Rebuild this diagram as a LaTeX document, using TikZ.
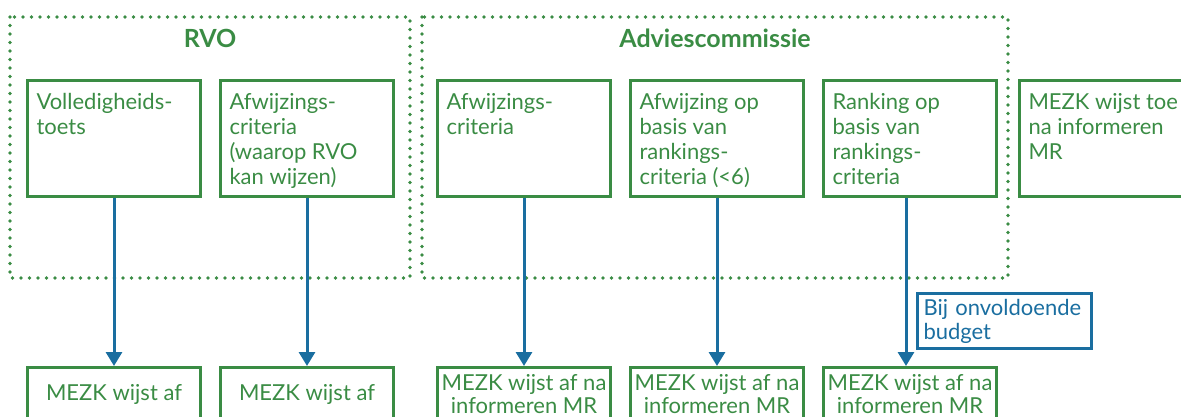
\documentclass[tikz,border=0pt]{standalone}
\usepackage{fontspec}
\setmainfont{Lato}
\usetikzlibrary{arrows.meta}
\definecolor{rvogroen}{RGB}{58,140,68}
\definecolor{rvoblauw}{RGB}{26,110,160}
\newcommand{\staptekst}[1]{\parbox[t][90pt][t]{155pt}{\raggedright #1}}

\tikzset{
  stap/.style={draw=rvogroen, line width=3pt, text=rvogroen, anchor=north west,
    inner xsep=9pt, inner ysep=13pt, font=\fontsize{22}{25}\selectfont},
  besluit/.style={draw=rvogroen, line width=3pt, text=rvogroen, anchor=north west,
    minimum width=173pt, minimum height=54pt, align=center, inner sep=0pt,
    font=\fontsize{22}{23}\selectfont},
  groep/.style={draw=rvogroen, line width=3.6pt, line cap=round, dash pattern=on 0pt off 8.5pt},
  titel/.style={text=rvogroen, font=\fontsize{25}{28}\selectfont\bfseries},
  pijl/.style={draw=rvoblauw, line width=3pt, -{Triangle[width=16pt,length=14pt]}},
  noot/.style={draw=rvoblauw, line width=3pt, text=rvoblauw, anchor=north west,
    minimum width=174pt, minimum height=55pt, text width=162pt, inner xsep=6pt,
    align=left, font=\fontsize{22}{24}\selectfont},
}

\begin{document}
\begin{tikzpicture}[x=1pt,y=-1pt]
        \useasboundingbox (0,0) rectangle (1181,417);

        \draw[groep] (10,17) rectangle (410,278);
        \draw[groep] (422,17) rectangle (1008,278);
        \node[titel] (rvo) at (210,38) {RVO};
        \node[titel] (advies) at (715,38) {Adviescommissie};

        \node[stap] (vol) at (26,79) {\staptekst{Volledigheids-\\toets}};
        \node[stap] (afw) at (219,79) {\staptekst{Afwijzings-\\criteria\\(waarop RVO\\kan wijzen)}};
        \node[stap] (adv) at (436,79) {\staptekst{Afwijzings-\\criteria}};
        \node[stap] (afr) at (629,79) {\staptekst{Afwijzing op\\basis van\\rankings-\\criteria (<6)}};
        \node[stap] (rank) at (822,79) {\staptekst{Ranking op\\basis van\\rankings-\\criteria}};
        \node[stap] (toe) at (1018,79) {\staptekst{MEZK wijst toe\\na informeren\\MR}};

        \node[besluit] (af1) at (26,366) {MEZK wijst af};
        \node[besluit] (af2) at (219,366) {MEZK wijst af};
        \node[besluit] (af3) at (436,366) {MEZK wijst af na\\informeren MR};
        \node[besluit] (af4) at (629,366) {MEZK wijst af na\\informeren MR};
        \node[besluit] (af5) at (822,366) {MEZK wijst af na\\informeren MR};

        \node[noot] (budget) at (916,292) {Bij onvoldoende\\budget};

        \draw[pijl] (vol) -- (af1);
        \draw[pijl] (afw) -- (af2);
        \draw[pijl] (adv) -- (af3);
        \draw[pijl] (afr) -- (af4);
        \draw[pijl] ([xshift=-4pt]rank.south) -- ([xshift=-4pt]af5.north);
\end{tikzpicture}
\end{document}
